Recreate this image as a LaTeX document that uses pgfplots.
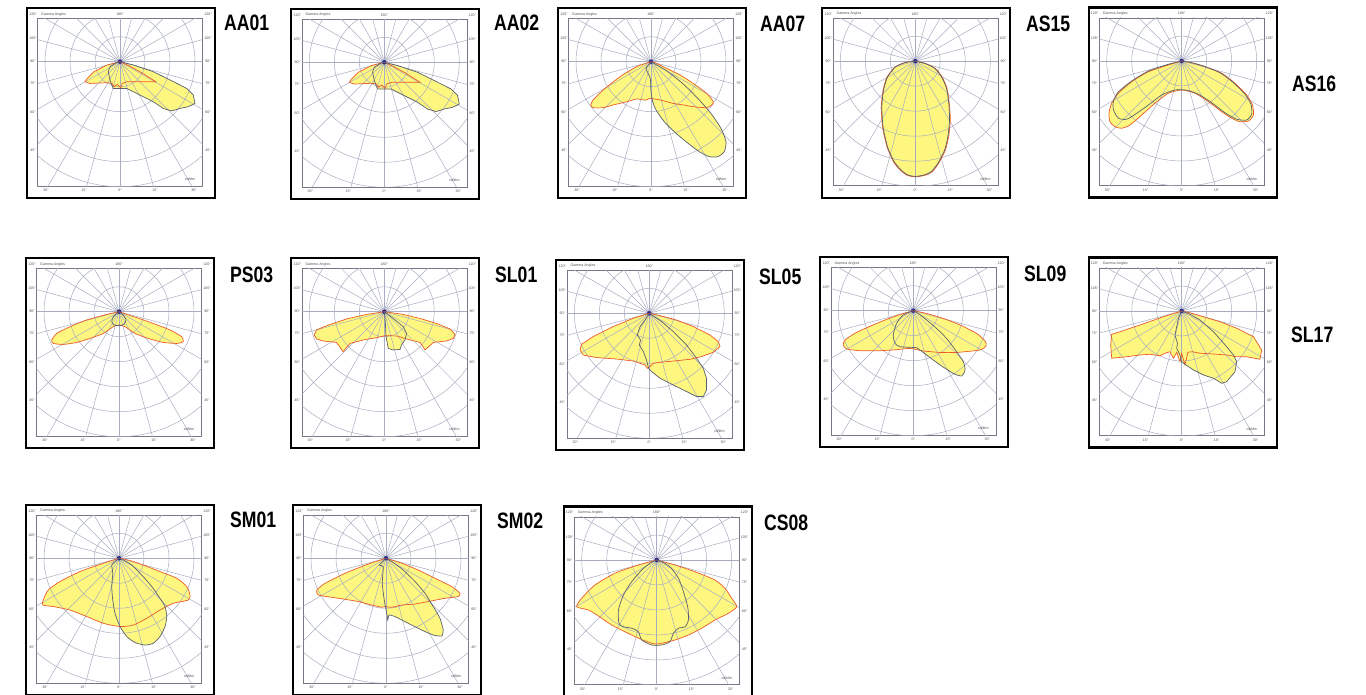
\documentclass[border=0pt]{standalone}
\usepackage{pgfplots}
\usepackage{pgfplotstable}
\usepackage{graphicx}
\pgfplotsset{compat=1.18}
\usepackage{fontspec}
\setmainfont{Liberation Sans}
\definecolor{lyellow}{RGB}{253,247,128}
\definecolor{cred}{RGB}{235,90,40}
\definecolor{cgrey}{RGB}{90,95,110}
\definecolor{cgrid}{RGB}{168,172,192}
\definecolor{cdot}{RGB}{40,40,140}
\definecolor{ctxt}{RGB}{80,80,80}

% ---------------- data (units: 1 = one ring spacing) ----------------
\pgfplotstableread{
x y
0 0
-0.51 -0.13
-1.04 -0.40
-1.31 -0.67
-1.40 -0.80
-1.20 -0.87
-0.51 -0.84
-0.31 -0.87
-0.24 -1.00
-0.11 -0.91
0.03 -1.05
0.09 -0.87
0.29 -0.80
0.83 -0.80
1.43 -0.80
0.83 -0.42
0.29 -0.13
0 0
}\AAred
\pgfplotstableread{
x y
0 0
0.53 -0.13
1.33 -0.40
2.00 -0.73
2.67 -1.07
2.93 -1.33
3.00 -1.67
2.73 -1.80
2.40 -1.87
2.07 -1.97
1.73 -1.87
1.33 -1.60
0.93 -1.40
0.53 -1.20
0.27 -1.07
0.07 -1.07
-0.07 -1.07
-0.27 -1.07
-0.33 -0.93
-0.40 -0.73
-0.47 -0.40
-0.40 -0.20
-0.13 -0.03
0 0
}\AAgrey
\pgfplotstableread{
x y
0 0
-0.57 -0.20
-1.24 -0.60
-1.91 -1.13
-2.31 -1.53
-2.41 -1.73
-2.31 -1.84
-1.91 -1.84
-1.51 -1.73
-0.97 -1.60
-0.57 -1.49
-0.31 -1.53
-0.17 -1.53
-0.04 -1.47
0.36 -1.53
0.89 -1.67
1.29 -1.73
1.69 -1.80
2.23 -1.84
2.43 -1.73
2.49 -1.60
2.23 -1.27
1.69 -0.87
1.16 -0.53
0.63 -0.27
0.23 -0.07
0 0
}\AAsevenred
\pgfplotstableread{
x y
0 0
0.67 -0.40
1.33 -0.93
1.93 -1.53
2.40 -2.07
2.80 -2.67
3.00 -3.20
2.93 -3.60
2.67 -3.80
2.33 -3.80
1.93 -3.60
1.40 -3.20
0.93 -2.80
0.53 -2.40
0.20 -1.93
0.07 -1.60
0 -1.20
-0.03 -0.67
-0.20 -0.27
-0.05 -0.08
0 0
}\AAsevengrey
\pgfplotstableread{
x y
0 0
0.40 -0.09
0.80 -0.29
1.07 -0.63
1.27 -1.09
1.36 -1.69
1.40 -2.36
1.33 -3.03
1.20 -3.56
0.93 -4.09
0.67 -4.43
0.40 -4.56
0 -4.63
-0.33 -4.56
-0.60 -4.36
-0.87 -4.03
-1.13 -3.43
-1.31 -2.63
-1.36 -1.83
-1.29 -1.16
-1.13 -0.63
-0.80 -0.23
-0.40 -0.05
0 0
}\ASfifteenred
\pgfplotstableread{
x y
0 0
0.39 -0.09
0.78 -0.29
1.05 -0.63
1.25 -1.09
1.34 -1.69
1.37 -2.36
1.30 -3.03
1.17 -3.56
0.91 -4.07
0.65 -4.41
0.39 -4.54
0 -4.61
-0.32 -4.54
-0.58 -4.34
-0.85 -4.01
-1.11 -3.43
-1.29 -2.63
-1.34 -1.83
-1.27 -1.16
-1.11 -0.63
-0.79 -0.23
-0.39 -0.05
0 0
}\ASfifteengrey
\pgfplotstableread{
x y
0 0
-0.53 -0.16
-1.33 -0.43
-2.00 -0.83
-2.53 -1.29
-2.80 -1.69
-2.91 -2.09
-2.87 -2.43
-2.67 -2.63
-2.40 -2.69
-2.07 -2.56
-1.60 -2.16
-1.07 -1.69
-0.53 -1.29
0 -1.16
0.53 -1.29
1.07 -1.63
1.60 -2.03
2.00 -2.29
2.33 -2.43
2.67 -2.40
2.87 -2.16
2.83 -1.76
2.60 -1.36
2.13 -0.89
1.60 -0.49
0.93 -0.23
0.40 -0.07
0 0
}\ASsixteenred
\pgfplotstableread{
x y
0 0
-0.53 -0.13
-1.33 -0.40
-2.00 -0.80
-2.53 -1.23
-2.73 -1.60
-2.73 -1.96
-2.53 -2.29
-2.20 -2.33
-1.80 -2.09
-1.33 -1.76
-0.80 -1.36
-0.27 -1.16
0.20 -1.17
0.67 -1.33
1.20 -1.67
1.73 -2.07
2.20 -2.33
2.60 -2.36
2.80 -2.13
2.77 -1.73
2.53 -1.33
2.07 -0.87
1.53 -0.47
0.87 -0.20
0.40 -0.07
0 0
}\ASsixteengrey
\pgfplotstableread{
x y
0 0
-0.49 -0.11
-1.29 -0.33
-1.96 -0.60
-2.49 -0.87
-2.69 -1.13
-2.63 -1.27
-2.23 -1.31
-1.69 -1.23
-1.16 -1.07
-0.63 -0.87
-0.23 -0.60
0 -0.53
0.24 -0.60
0.64 -0.87
1.17 -1.07
1.77 -1.23
2.31 -1.27
2.57 -1.20
2.51 -1.00
2.04 -0.73
1.37 -0.47
0.71 -0.24
0.31 -0.11
0 0
}\PSred
\pgfplotstableread{
x y
0 0
-0.23 -0.20
-0.29 -0.40
-0.20 -0.53
0 -0.56
0.20 -0.51
0.28 -0.33
0.17 -0.13
0 0
}\PSgrey
\pgfplotstableread{
x y
0 0
-0.71 -0.11
-1.51 -0.29
-2.31 -0.56
-2.71 -0.73
-2.81 -0.93
-2.71 -1.09
-2.44 -1.17
-1.91 -1.23
-1.65 -1.60
-1.37 -1.27
-0.84 -1.13
-0.31 -1.04
0.03 -0.96
0.49 -0.97
1.03 -1.13
1.43 -1.23
1.63 -1.53
1.96 -1.23
2.49 -1.17
2.76 -1.07
2.83 -0.91
2.63 -0.69
2.09 -0.47
1.43 -0.27
0.76 -0.11
0 0
}\SLonered
\pgfplotstableread{
x y
0 0
0.04 -0.40
0.07 -1.00
0.16 -1.47
0.36 -1.53
0.63 -1.51
0.69 -1.33
0.83 -1.13
0.89 -0.87
0.76 -0.60
0.43 -0.33
0.10 -0.07
0 0
}\SLonegrey
\pgfplotstableread{
x y
0 0
-0.64 -0.20
-1.44 -0.53
-2.24 -0.93
-2.71 -1.24
-2.77 -1.47
-2.64 -1.67
-2.11 -1.77
-1.31 -1.83
-0.64 -1.91
-0.17 -2.07
-0.08 -2.20
0.03 -2.13
0.16 -2.00
0.43 -1.96
0.96 -1.91
1.63 -1.84
2.09 -1.73
2.56 -1.56
2.83 -1.33
2.76 -1.13
2.43 -0.87
1.76 -0.53
1.09 -0.27
0.43 -0.09
0 0
}\SLfivered
\pgfplotstableread{
x y
0 0
-0.17 -0.27
-0.37 -0.53
-0.48 -0.87
-0.35 -1.07
-0.40 -1.27
-0.24 -1.53
-0.11 -1.87
-0.03 -2.20
0.09 -2.33
0.43 -2.60
0.96 -2.87
1.49 -3.13
1.89 -3.33
2.16 -3.33
2.29 -3.07
2.29 -2.60
2.16 -2.20
1.89 -1.80
1.49 -1.27
0.96 -0.73
0.49 -0.33
0.16 -0.11
0 0
}\SLfivegrey
\pgfplotstableread{
x y
0 0
-0.67 -0.20
-1.47 -0.51
-2.27 -0.87
-2.73 -1.17
-2.80 -1.37
-2.67 -1.53
-2.13 -1.60
-1.33 -1.60
-0.67 -1.56
-0.13 -1.51
0.40 -1.61
1.07 -1.67
1.73 -1.67
2.67 -1.57
2.91 -1.40
2.87 -1.21
2.53 -0.91
1.87 -0.57
1.20 -0.31
0.53 -0.11
0 0
}\SLninered
\pgfplotstableread{
x y
0 0
-0.40 -0.17
-0.67 -0.51
-0.80 -0.97
-0.73 -1.31
-0.53 -1.44
0 -1.47
0.13 -1.48
0.53 -1.77
1.07 -2.17
1.60 -2.51
1.93 -2.61
2.07 -2.37
2.00 -2.04
1.73 -1.64
1.33 -1.11
0.93 -0.71
0.53 -0.37
0.20 -0.11
0 0
}\SLninegrey
\pgfplotstableread{
x y
0 0
-0.73 -0.23
-1.67 -0.56
-2.47 -0.83
-2.80 -0.93
-2.84 -1.36
-2.80 -1.89
-2.20 -1.83
-1.67 -1.76
-1.27 -1.73
-0.87 -1.79
-0.67 -1.69
-0.47 -1.63
-0.33 -1.89
-0.20 -1.65
-0.07 -2.03
0 -1.70
0.13 -2.15
0.25 -1.65
0.43 -1.63
0.73 -1.69
1.27 -1.72
1.80 -1.76
2.20 -1.83
2.60 -1.83
3.13 -1.93
3.20 -1.56
2.87 -1.03
2.20 -0.69
1.53 -0.43
0.87 -0.23
0.33 -0.07
0 0
}\SLseventeenred
\pgfplotstableread{
x y
0 0
-0.13 -0.29
-0.20 -0.63
-0.27 -0.96
-0.17 -1.29
-0.20 -1.49
-0.07 -1.76
0 -2.03
0.13 -2.13
0.47 -2.36
0.87 -2.56
1.27 -2.69
1.60 -2.89
1.80 -2.83
2.13 -2.43
2.20 -2.03
2.07 -1.76
1.80 -1.43
1.27 -0.83
0.73 -0.36
0.33 -0.13
0 0
}\SLseventeengrey
\pgfplotstableread{
x y
0 0
-0.63 -0.20
-1.56 -0.53
-2.36 -0.93
-2.83 -1.27
-3.03 -1.67
-3.05 -1.87
-2.63 -1.93
-1.96 -2.07
-1.29 -2.33
-0.63 -2.60
0.04 -2.73
0.57 -2.67
1.11 -2.40
1.64 -2.07
2.17 -1.80
2.77 -1.67
2.84 -1.47
2.71 -1.13
2.31 -0.80
1.64 -0.53
0.97 -0.27
0.44 -0.09
0 0
}\SMonered
\pgfplotstableread{
x y
0 0
-0.16 -0.13
-0.29 -0.27
-0.25 -0.60
-0.29 -1.13
-0.25 -1.67
-0.16 -2.20
0.04 -2.73
0.31 -3.13
0.64 -3.37
1.04 -3.47
1.37 -3.40
1.64 -3.13
1.84 -2.73
1.91 -2.33
1.84 -1.93
1.64 -1.60
1.31 -1.13
0.91 -0.67
0.51 -0.27
0.17 -0.07
0 0
}\SMonegrey
\pgfplotstableread{
x y
0 0
-0.71 -0.23
-1.64 -0.60
-2.44 -1.00
-2.77 -1.27
-2.71 -1.47
-2.17 -1.56
-1.64 -1.64
-1.11 -1.73
-0.57 -1.87
-0.17 -1.96
-0.04 -1.93
0.23 -1.96
0.63 -1.87
1.16 -1.83
1.69 -1.73
2.36 -1.60
2.89 -1.53
2.96 -1.40
2.63 -1.13
1.96 -0.80
1.29 -0.47
0.63 -0.20
0 0
}\SMtwored
\pgfplotstableread{
x y
0 0
-0.27 -0.27
-0.11 -0.33
-0.15 -1.00
-0.07 -1.67
0.03 -2.20
0.07 -2.47
0.12 -2.27
0.36 -2.33
0.89 -2.60
1.43 -2.87
1.89 -3.07
2.23 -3.11
2.29 -2.87
2.16 -2.40
1.89 -1.93
1.56 -1.40
1.16 -0.93
0.69 -0.47
0.29 -0.17
0 0
}\SMtwogrey
\pgfplotstableread{
x y
0 0
-0.73 -0.20
-1.67 -0.53
-2.47 -1.00
-3.00 -1.53
-3.20 -1.87
-2.73 -2.00
-2.33 -2.24
-1.80 -2.60
-1.27 -2.87
-0.73 -3.13
-0.20 -3.33
0 -3.36
0.20 -3.33
0.73 -3.20
1.27 -3.00
1.80 -2.73
2.33 -2.40
2.87 -2.13
3.20 -1.87
3.00 -1.53
2.73 -1.13
2.33 -0.80
1.53 -0.47
0.73 -0.20
0 0
}\CSred
\pgfplotstableread{
x y
0 0
-0.27 -0.13
-0.60 -0.40
-1.00 -0.87
-1.33 -1.40
-1.53 -2.00
-1.51 -2.53
-1.33 -2.67
-1.00 -2.73
-0.73 -2.87
-0.60 -3.20
-0.20 -3.40
0.20 -3.40
0.53 -3.27
0.67 -2.93
0.87 -2.73
1.13 -2.67
1.27 -2.40
1.24 -1.87
1.07 -1.27
0.87 -0.73
0.53 -0.27
0.20 -0.07
0 0
}\CSgrey

\pgfplotsset{
  polarpanel/.style={
    scale only axis, width=165pt, height=167.5pt,
    xmin=-3.3, xmax=3.3, ymin=-4.98, ymax=1.72,
    axis line style={draw=cgrid!70!black, line width=0.5pt},
    ticks=none, anchor=south west,
  },
}
\newcommand{\lbl}{\fontsize{3.6}{4}\selectfont\color{ctxt}}
% #1 cx  #2 cy (image px, y down)  #3 red table  #4 grey table  #5 name  #6 name x  #7 name baseline y  #8 curve style
\newcommand{\panel}[8]{%
  \begin{axis}[polarpanel, at={({#1pt-82.5pt},{570.5pt-#2pt})}]
    \addplot[draw=none, fill=lyellow, #8] table {#3};
    \addplot[draw=none, fill=lyellow, #8] table {#4};
    \pgfplotsinvokeforeach{1,2,3,4,5,6}{\draw[cgrid, line width=0.5pt] (axis cs:0,0) circle[radius=##1];}
    \pgfplotsinvokeforeach{0,15,...,345}{\draw[cgrid, line width=0.5pt] (axis cs:0,0) -- (axis cs:{8*cos(##1)},{8*sin(##1)});}
    \fill[cdot] (axis cs:0,0) circle[radius=0.09];
    \addplot[cred, line width=0.7pt, #8] table {#3};
    \addplot[cgrey, line width=0.7pt, #8] table {#4};
  \end{axis}
  \begin{scope}[shift={({#1pt},{695pt-#2pt})}]
    \draw[black, line width=2.2pt] (-93pt,-136.5pt) rectangle (95pt,53.5pt);
    \node[inner sep=0] at (-87pt,47.3pt) {\lbl 120°};
    \node[inner sep=0, anchor=west] at (-79pt,47.3pt) {\lbl Gamma Angles};
    \node[inner sep=0] at (0pt,47.3pt) {\lbl 180°};
    \node[inner sep=0] at (88pt,47.3pt) {\lbl 120°};
    \foreach \yy/\tt in {23/105°,0/90°,-22/75°,-51/60°,-89/45°}{
      \node[inner sep=0] at (-87pt,\yy pt) {\lbl \tt};
      \node[inner sep=0] at (88pt,\yy pt) {\lbl \tt};
    }
    \foreach \xx/\tt in {-74/30°,-36/15°,0/0°,35/15°,74/30°}{
      \node[inner sep=0] at (\xx pt,-129pt) {\lbl \tt};
    }
    \node[inner sep=0] at (70pt,-118pt) {\lbl cd/klm};
  \end{scope}
  \node[anchor=base west, inner sep=0] at ({#6pt},{695pt-#7pt})
    {\scalebox{0.79}[1]{\fontsize{22.3}{24}\selectfont\bfseries #5}};
}

\begin{document}
\begin{tikzpicture}[x=1pt,y=1pt]
  \useasboundingbox (0,0) rectangle (1366,695);
  \panel{120}{61.7}{\AAred}{\AAgrey}{AA01}{224}{31}{sharp plot}
  \panel{384.3}{62.3}{\AAred}{\AAgrey}{AA02}{494}{31}{sharp plot}
  \panel{651}{61.7}{\AAsevenred}{\AAsevengrey}{AA07}{760}{32}{smooth, tension=0.4}
  \panel{915.3}{61.2}{\ASfifteenred}{\ASfifteengrey}{AS15}{1026}{32}{smooth, tension=0.4}
  \panel{1181.7}{61}{\ASsixteenred}{\ASsixteengrey}{AS16}{1292}{92}{smooth, tension=0.4}
  \panel{119}{311.7}{\PSred}{\PSgrey}{PS03}{230}{283}{smooth, tension=0.3}
  \panel{384.3}{311.7}{\SLonered}{\SLonegrey}{SL01}{495}{283}{sharp plot}
  \panel{649.3}{313.3}{\SLfivered}{\SLfivegrey}{SL05}{759}{285}{sharp plot}
  \panel{913.3}{310.7}{\SLninered}{\SLninegrey}{SL09}{1024}{282}{smooth, tension=0.4}
  \panel{1181.7}{311}{\SLseventeenred}{\SLseventeengrey}{SL17}{1291}{343}{sharp plot}
  \panel{119}{558.3}{\SMonered}{\SMonegrey}{SM01}{230}{528}{smooth, tension=0.4}
  \panel{386}{558.3}{\SMtwored}{\SMtwogrey}{SM02}{497}{529}{smooth, tension=0.3}
  \panel{656.7}{560}{\CSred}{\CSgrey}{CS08}{764}{531}{smooth, tension=0.4}
\end{tikzpicture}
\end{document}
